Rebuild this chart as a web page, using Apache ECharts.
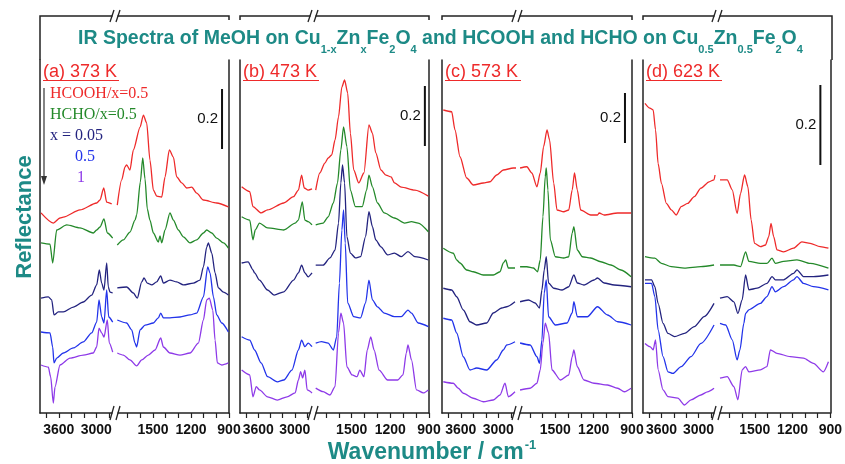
<!DOCTYPE html>
<html>
<head>
<meta charset="utf-8">
<script src="https://cdn.jsdelivr.net/npm/echarts@6/dist/echarts.min.js"></script>
<style>
  html, body { margin: 0; background: #fff; }
  #chart { width: 845px; height: 464px; }
</style>
</head>
<body>
<div id="chart"></div>
<script>
// [wavenumber, offset reflectance]; Hi = 3900-2700 cm-1 part, Lo = 1800-900 cm-1 part
// (a) 373 K
var aRedHi = [[3884,0.667],[3687,0.633],[3580,0.65],[3527,0.653],[3260,0.677],[2993,0.70],[2940,0.71],[2880,0.75],[2833,0.703],[2753,0.697]];
var aRedLo = [[1782,0.693],[1747,0.777],[1721,0.82],[1708,0.827],[1682,0.81],[1655,0.877],[1602,0.953],[1576,0.993],[1550,0.967],[1524,0.843],[1497,0.743],[1471,0.723],[1431,0.72],[1405,0.787],[1371,0.877],[1339,0.853],[1313,0.787],[1273,0.767],[1234,0.75],[1194,0.753],[1155,0.733],[1102,0.71],[997,0.70],[905,0.687]];
var aGreenHi = [[3884,0.567],[3740,0.563],[3697,0.50],[3633,0.61],[3473,0.627],[3260,0.617],[3047,0.60],[2993,0.61],[2940,0.62],[2876,0.647],[2823,0.60],[2737,0.583]];
var aGreenLo = [[1782,0.56],[1734,0.577],[1682,0.603],[1642,0.643],[1629,0.66],[1600,0.77],[1581,0.85],[1563,0.78],[1545,0.68],[1524,0.643],[1497,0.60],[1458,0.57],[1445,0.59],[1431,0.567],[1405,0.61],[1366,0.667],[1339,0.643],[1300,0.61],[1260,0.587],[1208,0.567],[1155,0.577],[1102,0.60],[1076,0.61],[1036,0.60],[997,0.583],[944,0.567],[905,0.55]];
var aNavyHi = [[3884,0.383],[3767,0.387],[3713,0.377],[3676,0.327],[3607,0.337],[3527,0.337],[3367,0.353],[3207,0.37],[3073,0.393],[2993,0.427],[2951,0.477],[2913,0.433],[2876,0.41],[2833,0.50],[2807,0.42],[2780,0.403],[2737,0.40]];
var aNavyLo = [[1782,0.417],[1708,0.42],[1655,0.40],[1624,0.383],[1589,0.437],[1571,0.45],[1545,0.433],[1510,0.427],[1471,0.437],[1439,0.457],[1418,0.433],[1366,0.443],[1313,0.437],[1260,0.427],[1181,0.433],[1129,0.443],[1102,0.487],[1076,0.553],[1063,0.567],[1036,0.533],[1010,0.467],[984,0.417],[944,0.403],[905,0.393]];
var aBlueHi = [[3884,0.27],[3740,0.267],[3697,0.22],[3676,0.167],[3633,0.183],[3527,0.20],[3367,0.217],[3207,0.237],[3073,0.267],[2993,0.303],[2956,0.377],[2913,0.32],[2876,0.30],[2833,0.41],[2801,0.32],[2737,0.303]];
var aBlueLo = [[1782,0.31],[1708,0.30],[1668,0.277],[1642,0.233],[1629,0.22],[1602,0.277],[1563,0.293],[1497,0.30],[1458,0.317],[1439,0.333],[1418,0.317],[1366,0.317],[1287,0.32],[1208,0.327],[1155,0.333],[1102,0.387],[1068,0.487],[1050,0.467],[1023,0.387],[997,0.327],[957,0.30],[905,0.27]];
var aVioletHi = [[3884,0.16],[3767,0.153],[3729,0.12],[3687,0.033],[3660,0.087],[3580,0.16],[3420,0.183],[3207,0.193],[3047,0.20],[2993,0.22],[2956,0.283],[2913,0.267],[2876,0.253],[2823,0.31],[2791,0.233],[2737,0.203]];
var aVioletLo = [[1782,0.20],[1734,0.193],[1682,0.177],[1629,0.157],[1589,0.177],[1537,0.193],[1484,0.21],[1439,0.25],[1418,0.22],[1366,0.20],[1287,0.193],[1208,0.20],[1142,0.233],[1102,0.31],[1076,0.377],[1055,0.383],[1028,0.343],[1010,0.243],[992,0.167],[957,0.16],[905,0.167]];

// (b) 473 K
var bRedHi = [[3873,0.754],[3740,0.738],[3687,0.688],[3553,0.667],[3447,0.677],[3180,0.70],[3020,0.721],[2940,0.743],[2887,0.793],[2844,0.75],[2780,0.743],[2716,0.747]];
var bRedLo = [[1779,0.743],[1747,0.80],[1708,0.833],[1682,0.85],[1655,0.86],[1629,0.91],[1602,0.987],[1576,1.087],[1555,1.11],[1531,1.067],[1510,0.933],[1484,0.81],[1445,0.767],[1405,0.80],[1366,0.96],[1339,0.933],[1313,0.867],[1273,0.81],[1234,0.793],[1194,0.787],[1168,0.767],[1115,0.753],[1010,0.743],[905,0.723]];
var bGreenHi = [[3873,0.654],[3740,0.643],[3687,0.577],[3649,0.61],[3580,0.633],[3447,0.617],[3180,0.61],[2993,0.633],[2940,0.643],[2876,0.704],[2833,0.643],[2780,0.638],[2716,0.627]];
var bGreenLo = [[1779,0.627],[1721,0.633],[1682,0.654],[1642,0.70],[1610,0.767],[1584,0.877],[1563,0.954],[1537,0.888],[1510,0.743],[1471,0.688],[1418,0.688],[1384,0.743],[1366,0.793],[1339,0.754],[1300,0.70],[1247,0.667],[1168,0.65],[1089,0.633],[1036,0.638],[984,0.633],[905,0.604]];
var bNavyHi = [[3873,0.50],[3767,0.504],[3687,0.477],[3660,0.467],[3580,0.443],[3447,0.41],[3340,0.393],[3180,0.404],[3020,0.443],[2940,0.467],[2887,0.493],[2833,0.467],[2780,0.454],[2716,0.467]];
var bNavyLo = [[1779,0.493],[1721,0.493],[1668,0.517],[1629,0.543],[1602,0.633],[1584,0.767],[1571,0.827],[1555,0.767],[1537,0.588],[1510,0.533],[1471,0.517],[1431,0.521],[1392,0.588],[1366,0.671],[1339,0.621],[1313,0.577],[1273,0.554],[1221,0.527],[1168,0.533],[1115,0.521],[1063,0.538],[1010,0.521],[905,0.51]];
var bBlueHi = [[3873,0.254],[3740,0.243],[3660,0.21],[3553,0.167],[3447,0.121],[3287,0.104],[3180,0.11],[3047,0.143],[2940,0.21],[2887,0.243],[2833,0.221],[2780,0.233],[2716,0.221]];
var bBlueLo = [[1779,0.233],[1734,0.238],[1682,0.233],[1642,0.21],[1616,0.254],[1595,0.433],[1576,0.61],[1563,0.677],[1550,0.567],[1531,0.367],[1484,0.321],[1431,0.317],[1392,0.367],[1366,0.443],[1339,0.377],[1300,0.354],[1247,0.333],[1168,0.321],[1115,0.321],[1063,0.343],[1036,0.333],[984,0.30],[905,0.288]];
var bVioletHi = [[3873,0.143],[3740,0.127],[3687,0.054],[3633,0.088],[3580,0.077],[3447,0.054],[3287,0.043],[3127,0.054],[2993,0.067],[2940,0.11],[2903,0.138],[2871,0.117],[2833,0.143],[2796,0.077],[2716,0.067]];
var bVioletLo = [[1779,0.083],[1721,0.071],[1668,0.06],[1629,0.088],[1602,0.267],[1584,0.333],[1563,0.30],[1537,0.154],[1497,0.127],[1458,0.121],[1437,0.143],[1405,0.121],[1379,0.21],[1352,0.254],[1326,0.21],[1287,0.143],[1221,0.11],[1142,0.11],[1102,0.127],[1076,0.20],[1063,0.227],[1036,0.177],[997,0.077],[944,0.067],[905,0.077]];

// (c) 573 K
var cRedHi = [[3879,1.212],[3745,1.205],[3692,1.132],[3612,1.025],[3505,0.94],[3399,0.912],[3239,0.92],[3132,0.925],[3025,0.952],[2919,0.972],[2759,0.98],[2716,0.98]];
var cRedLo = [[1776,0.98],[1723,0.985],[1684,0.96],[1644,0.905],[1618,0.96],[1592,1.065],[1565,1.132],[1545,1.092],[1513,0.92],[1487,0.812],[1434,0.805],[1395,0.812],[1368,0.892],[1350,0.96],[1328,0.892],[1302,0.812],[1223,0.792],[1170,0.792],[1157,0.80],[1118,0.792],[1012,0.80],[907,0.80]];
var cGreenHi = [[3879,0.659],[3719,0.639],[3665,0.612],[3612,0.60],[3505,0.572],[3399,0.565],[3239,0.552],[3079,0.552],[2972,0.565],[2919,0.60],[2881,0.612],[2839,0.58],[2732,0.58]];
var cGreenLo = [[1776,0.585],[1723,0.585],[1671,0.58],[1639,0.565],[1618,0.612],[1597,0.785],[1579,0.945],[1571,0.98],[1558,0.892],[1539,0.692],[1500,0.625],[1434,0.62],[1395,0.625],[1368,0.72],[1355,0.745],[1328,0.652],[1289,0.625],[1223,0.62],[1144,0.605],[1065,0.592],[986,0.572],[907,0.545]];
var cNavyHi = [[3879,0.499],[3745,0.492],[3665,0.465],[3559,0.412],[3452,0.365],[3345,0.352],[3185,0.36],[3079,0.40],[2945,0.42],[2865,0.425],[2732,0.445]];
var cNavyLo = [[1776,0.445],[1710,0.452],[1658,0.44],[1624,0.42],[1605,0.492],[1587,0.572],[1571,0.625],[1553,0.52],[1513,0.499],[1447,0.492],[1395,0.505],[1355,0.552],[1328,0.52],[1276,0.512],[1197,0.532],[1170,0.54],[1118,0.52],[1039,0.512],[907,0.505]];
var cBlueHi = [[3879,0.379],[3745,0.372],[3665,0.32],[3559,0.225],[3452,0.172],[3345,0.18],[3185,0.172],[3025,0.212],[2919,0.252],[2865,0.272],[2732,0.285]];
var cBlueLo = [[1776,0.28],[1697,0.272],[1644,0.225],[1624,0.199],[1605,0.292],[1587,0.48],[1571,0.532],[1553,0.385],[1500,0.352],[1408,0.36],[1368,0.40],[1355,0.445],[1328,0.385],[1250,0.385],[1170,0.425],[1091,0.392],[1012,0.365],[907,0.352]];
var cVioletHi = [[3879,0.125],[3719,0.119],[3639,0.099],[3559,0.079],[3399,0.059],[3239,0.045],[3079,0.052],[2972,0.072],[2892,0.119],[2839,0.065],[2732,0.085]];
var cVioletLo = [[1776,0.092],[1697,0.099],[1644,0.119],[1618,0.172],[1597,0.28],[1579,0.359],[1553,0.32],[1526,0.172],[1460,0.132],[1395,0.152],[1368,0.225],[1355,0.252],[1328,0.185],[1276,0.132],[1197,0.119],[1091,0.112],[1012,0.099],[960,0.085],[907,0.099]];

// (d) 623 K
var dRedHi = [[3868,0.774],[3788,0.762],[3735,0.758],[3697,0.708],[3655,0.624],[3601,0.574],[3521,0.524],[3441,0.508],[3361,0.495],[3281,0.516],[3175,0.524],[3068,0.541],[2961,0.562],[2828,0.578],[2748,0.583],[2732,0.595]];
var dRedLo = [[1776,0.583],[1719,0.583],[1679,0.558],[1640,0.499],[1613,0.549],[1581,0.595],[1555,0.566],[1529,0.483],[1502,0.424],[1455,0.416],[1415,0.42],[1389,0.441],[1371,0.474],[1350,0.441],[1324,0.408],[1271,0.403],[1192,0.412],[1126,0.428],[1060,0.424],[981,0.416],[915,0.412]];
var dGreenHi = [[3868,0.391],[3708,0.387],[3601,0.374],[3441,0.366],[3228,0.362],[2961,0.366],[2748,0.37]];
var dGreenLo = [[1776,0.37],[1666,0.37],[1613,0.366],[1573,0.403],[1547,0.379],[1455,0.374],[1403,0.374],[1363,0.387],[1337,0.374],[1271,0.379],[1165,0.383],[1060,0.374],[915,0.362]];
var dNavyHi = [[3868,0.333],[3761,0.333],[3708,0.316],[3655,0.274],[3575,0.224],[3495,0.199],[3388,0.191],[3228,0.199],[3068,0.216],[2908,0.241],[2748,0.274]];
var dNavyLo = [[1776,0.287],[1719,0.291],[1666,0.278],[1634,0.249],[1600,0.283],[1573,0.345],[1547,0.308],[1481,0.312],[1403,0.324],[1363,0.341],[1337,0.333],[1271,0.333],[1192,0.349],[1165,0.358],[1113,0.341],[1034,0.341],[915,0.345]];
var dBlueHi = [[3868,0.324],[3761,0.324],[3708,0.291],[3655,0.208],[3575,0.141],[3495,0.103],[3415,0.099],[3281,0.116],[3121,0.141],[2961,0.174],[2748,0.22]];
var dBlueLo = [[1776,0.224],[1731,0.22],[1679,0.183],[1640,0.133],[1618,0.158],[1587,0.224],[1573,0.249],[1547,0.258],[1455,0.274],[1403,0.291],[1363,0.316],[1337,0.303],[1271,0.316],[1192,0.333],[1165,0.341],[1113,0.324],[1034,0.316],[915,0.308]];
var dVioletHi = [[3868,0.174],[3788,0.166],[3735,0.158],[3697,0.183],[3655,0.108],[3575,0.058],[3495,0.041],[3335,0.037],[3228,0.02],[3121,0.033],[2961,0.045],[2855,0.053],[2748,0.062]];
var dVioletLo = [[1776,0.087],[1719,0.091],[1666,0.066],[1634,0.033],[1600,0.108],[1573,0.116],[1547,0.103],[1455,0.108],[1403,0.116],[1376,0.158],[1324,0.149],[1218,0.141],[1113,0.137],[1034,0.124],[955,0.103],[915,0.128]];

// 0.2 scale bars: [wavenumber, bottom, top]
var scaleBars = [[955,0.88,1.08],[932,0.89,1.09],[955,1.08,1.28],[979,0.62,0.82]];

var hiTicks = [2800,3000,3200,3400,3600,3800];
var hiLabels = [3000,3600];
var loTicks = [900,1000,1100,1200,1300,1400,1500,1600,1700];
var loLabels = [900,1200,1500];

var temps = ['(a) 373 K','(b) 473 K','(c) 573 K','(d) 623 K'];
var legendNames = ['HCOOH/x=0.5','HCHO/x=0.5','x = 0.05','0.5','1'];

var colors = ['#ee2a2a','#24892a','#23237f','#2233ea','#8e3ae8'];
var teal = '#1d8a86';

var panels = [
  {left: 40, brk: 115, right: 229, yMax: 353/300, traces: [[aRedHi,aRedLo],[aGreenHi,aGreenLo],[aNavyHi,aNavyLo],[aBlueHi,aBlueLo],[aVioletHi,aVioletLo]]},
  {left: 240, brk: 313, right: 429, yMax: 353/300, traces: [[bRedHi,bRedLo],[bGreenHi,bGreenLo],[bNavyHi,bNavyLo],[bBlueHi,bBlueLo],[bVioletHi,bVioletLo]]},
  {left: 442, brk: 517, right: 632, yMax: 353/250, traces: [[cRedHi,cRedLo],[cGreenHi,cGreenLo],[cNavyHi,cNavyLo],[cBlueHi,cBlueLo],[cVioletHi,cVioletLo]]},
  {left: 643, brk: 717, right: 832, yMax: 353/400, traces: [[dRedHi,dRedLo],[dGreenHi,dGreenLo],[dNavyHi,dNavyLo],[dBlueHi,dBlueLo],[dVioletHi,dVioletLo]]}
];

var TOP = 60, BOTTOM = 413;
var axisColor = '#222';

var chart = echarts.init(document.getElementById('chart'));

var grids = [], xAxes = [], yAxes = [], series = [], graphics = [];

panels.forEach(function (p, pi) {
  var gHi = pi * 2, gLo = pi * 2 + 1;
  grids.push({left: p.left, top: TOP, width: p.brk - p.left, height: BOTTOM - TOP});
  grids.push({left: p.brk, top: TOP, width: p.right - p.brk, height: BOTTOM - TOP});

  var tickStyle = {length: 5, lineStyle: {color: axisColor, width: 1.2}};
  var labelStyle = {
    fontSize: 14, fontWeight: 'bold', color: '#111', fontFamily: 'Arial', margin: 10,
    formatter: function (v) { return String(v); }
  };
  xAxes.push({
    gridIndex: gHi, type: 'value', min: 2700, max: 3900, inverse: true,
    axisLine: {onZero: false, lineStyle: {color: axisColor, width: 1.5}},
    axisTick: Object.assign({customValues: hiTicks}, tickStyle),
    axisLabel: Object.assign({customValues: hiLabels}, labelStyle),
    splitLine: {show: false}
  });
  xAxes.push({
    gridIndex: gLo, type: 'value', min: 900, max: 1800, inverse: true,
    axisLine: {onZero: false, lineStyle: {color: axisColor, width: 1.5}},
    axisTick: Object.assign({customValues: loTicks}, tickStyle),
    axisLabel: Object.assign({customValues: loLabels}, labelStyle),
    splitLine: {show: false}
  });
  [gHi, gLo].forEach(function (g, k) {
    yAxes.push({
      gridIndex: g, type: 'value', min: 0, max: p.yMax, position: k === 0 ? 'left' : 'right',
      axisLine: {show: true, onZero: false, lineStyle: {color: axisColor, width: 1.5}},
      axisTick: {show: false}, axisLabel: {show: false}, splitLine: {show: false}
    });
  });

  p.traces.forEach(function (pair, ti) {
    [gHi, gLo].forEach(function (g, k) {
      series.push({
        type: 'line', xAxisIndex: g, yAxisIndex: g, data: pair[k],
        showSymbol: false, smooth: 0.25, smoothMonotone: 'x',
        lineStyle: {color: colors[ti], width: 1.3}, silent: true, z: 3
      });
    });
  });

  var sb = scaleBars[pi];
  series.push({
    type: 'line', xAxisIndex: gLo, yAxisIndex: gLo, symbolSize: 0, showSymbol: true,
    data: [
      [sb[0], sb[1]],
      {value: [sb[0], (sb[1] + sb[2]) / 2], label: {show: true, position: 'left', distance: 4, formatter: '0.2', fontSize: 15, color: '#111', fontFamily: 'Arial'}},
      [sb[0], sb[2]]
    ],
    lineStyle: {color: '#111', width: 2}, silent: true
  });

  // top bracket with break
  var L = p.left, R = p.right;
  var pts = [[L, 20], [L, 16], [R, 16], [R, 20]];
  if (pi === 0) pts[0] = [L, TOP];
  if (pi === 3) pts[3] = [R, TOP];
  graphics.push({type: 'polyline', shape: {points: pts}, style: {stroke: axisColor, lineWidth: 1.5, fill: null}});
  [[16, 10, 22], [BOTTOM, 406, 420]].forEach(function (b) {
    graphics.push({type: 'rect', shape: {x: p.brk - 2.5, y: b[0] - 3, width: 5, height: 6}, style: {fill: '#fff'}, z: 10});
    graphics.push({type: 'line', shape: {x1: p.brk - 5, y1: b[2], x2: p.brk - 1, y2: b[1]}, style: {stroke: axisColor, lineWidth: 1.3}, z: 11});
    graphics.push({type: 'line', shape: {x1: p.brk + 1, y1: b[2], x2: p.brk + 5, y2: b[1]}, style: {stroke: axisColor, lineWidth: 1.3}, z: 11});
  });

  // panel label with underline
  graphics.push({type: 'text', x: L + 3, y: 72, style: {text: temps[pi], fill: '#ee2a2a', font: '18px Arial', verticalAlign: 'middle'}});
  graphics.push({type: 'line', shape: {x1: L + 3, y1: 80.5, x2: L + 79, y2: 80.5}, style: {stroke: '#ee2a2a', lineWidth: 1}});
});

// legend in panel (a)
var legPos = [[50, 94], [50, 115], [50, 136], [75, 157], [77, 178]];
legendNames.forEach(function (n, i) {
  graphics.push({type: 'text', x: legPos[i][0], y: legPos[i][1], style: {text: n, fill: colors[i], font: '16px "Liberation Serif", "Times New Roman", serif', verticalAlign: 'middle'}});
});
graphics.push({type: 'line', shape: {x1: 44, y1: 88, x2: 44, y2: 178}, style: {stroke: '#333', lineWidth: 1.2}});
graphics.push({type: 'polygon', shape: {points: [[41, 176], [47, 176], [44, 185]]}, style: {fill: '#333'}});

// axis titles
graphics.push({
  type: 'text', x: 25, y: 217, rotation: Math.PI / 2,
  style: {text: 'Reflectance', fill: teal, font: 'bold 22px Arial', align: 'center', verticalAlign: 'middle'}
});
graphics.push({
  type: 'text', x: 432, y: 453,
  style: {
    text: 'Wavenumber / cm{s|-1}', align: 'center', verticalAlign: 'middle',
    fill: teal, font: 'bold 23px Arial',
    rich: {s: {fontSize: 13, fontWeight: 'bold', fill: teal, fontFamily: 'Arial', padding: [0, 0, 16, 1]}}
  }
});

var mainStyle = {fontSize: 19.5, fontWeight: 'bold', color: teal, fontFamily: 'Arial', lineHeight: 24, verticalAlign: 'top'};
var subStyle = {fontSize: 11, fontWeight: 'bold', color: teal, fontFamily: 'Arial', lineHeight: 12, padding: [15, 0, 0, 0], verticalAlign: 'top'};
chart.setOption({
  animation: false,
  backgroundColor: '#fff',
  title: {
    text: '{m|IR Spectra of MeOH on Cu}{s|1-x}{m|Zn}{s|x}{m|Fe}{s|2}{m|O}{s|4}{m| and HCOOH and HCHO on Cu}{s|0.5}{m|Zn}{s|0.5}{m|Fe}{s|2}{m|O}{s|4}',
    left: 73, top: 24,
    textStyle: {color: teal, fontSize: 19.5, fontWeight: 'bold', fontFamily: 'Arial', rich: {m: mainStyle, s: subStyle}}
  },
  grid: grids,
  xAxis: xAxes,
  yAxis: yAxes,
  series: series,
  graphic: graphics
});
</script>
</body>
</html>
